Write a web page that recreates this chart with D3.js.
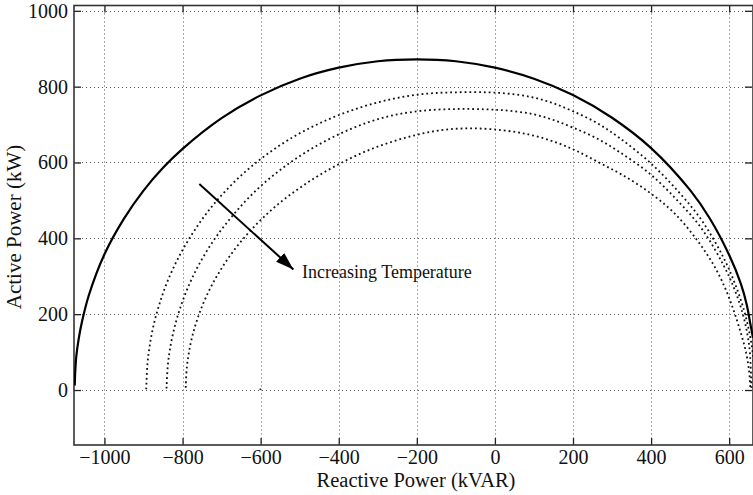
<!DOCTYPE html>
<html><head><meta charset="utf-8">
<script src="https://cdn.jsdelivr.net/npm/d3@7"></script>
<style>body{margin:0;background:#fff}svg{display:block}</style>
</head><body>
<svg id="chart" width="753" height="495"></svg>
<script>
// ---- data ----
const xDomain = [-1078, 661];
const yDomain = [-145, 1014];
const xTicks = [-1000, -800, -600, -400, -200, 0, 200, 400, 600];
const yTicks = [0, 200, 400, 600, 800, 1000];
const xTitle = "Reactive Power (kVAR)";
const yTitle = "Active Power (kW)";
const annotationText = "Increasing Temperature";

// solid capability limit curve [Q kVAR, P kW]
const limitCurve = [[-1076,12],[-1075,45],[-1072,90],[-1066,135],[-1058,178],[-1040,250],[-1000,358],[-950,452],
  [-900,526],[-850,586],[-800,636],[-700,717],[-600,777],[-500,821],[-400,850],[-300,867],[-200,872],
  [-100,867],[0,850],[100,821],[200,778],[300,718],[400,638],[500,527],[550,453],[600,356],[630,280],
  [645,225],[655,170],[661,138]];

// dotted curves (temperature increasing from A to C)
const curveA = [[-893,2],[-890,68],[-885,111],[-875,167],[-860,224],[-840,283],[-810,350],[-770,420],
  [-720,490],[-660,556],[-600,609],[-530,659],[-450,703],[-360,740],[-270,766],[-180,781],[-100,785],
  [-20,785],[40,781],[100,771],[150,756],[200,735],[260,705],[320,664],[397,600],[470,523],[530,447],
  [585,350],[615,280],[638,210],[652,150],[660,100],[667,0]];
const curveB = [[-841,4],[-838,62],[-833,103],[-823,155],[-808,210],[-788,266],[-760,327],[-720,395],
  [-670,462],[-610,528],[-540,588],[-460,642],[-370,688],[-280,720],[-190,736],[-100,741],[-20,740],
  [40,736],[100,727],[150,712],[200,692],[260,664],[320,627],[397,570],[470,497],[530,425],[585,330],
  [615,262],[635,200],[647,145],[653,100],[657,2]];
const curveC = [[-792,6],[-789,60],[-784,97],[-775,142],[-760,193],[-740,245],[-710,304],[-670,366],
  [-620,427],[-560,486],[-490,540],[-410,590],[-320,634],[-230,665],[-140,685],[-60,690],[20,685],
  [90,673],[154,654],[210,630],[270,598],[330,565],[397,520],[460,466],[518,395],[560,330],[590,268],
  [612,208],[630,150],[643,100],[651,50],[654,8]];
const strayPoint = [[-601, 2]];

// annotation arrow [Q, P]
const arrowStart = [-757, 543];
const arrowEnd = [-516, 318];
const annotationPos = [-494, 296];

// ---- drawing ----
const plot = {left: 74, right: 753, top: 5.5, bottom: 445};
const svg = d3.select("#chart");
const font = "'Liberation Serif','Times New Roman',serif";

const x = d3.scaleLinear().domain(xDomain).range([plot.left, plot.right]);
const y = d3.scaleLinear().domain(yDomain).range([plot.bottom, plot.top]);
const fmt = d3.format("d");

svg.append("defs").append("clipPath").attr("id", "clip")
  .append("rect").attr("x", plot.left).attr("y", plot.top)
  .attr("width", plot.right - plot.left).attr("height", plot.bottom - plot.top);

// grid
const grid = svg.append("g").attr("stroke", "#555").attr("stroke-width", 1).attr("stroke-dasharray", "1,3");
grid.selectAll("line.v").data(xTicks).join("line").attr("class", "v")
  .attr("x1", d => Math.round(x(d)) + 0.5).attr("x2", d => Math.round(x(d)) + 0.5)
  .attr("y1", plot.top).attr("y2", plot.bottom);
grid.selectAll("line.h").data(yTicks).join("line").attr("class", "h")
  .attr("y1", d => Math.round(y(d)) + 0.5).attr("y2", d => Math.round(y(d)) + 0.5)
  .attr("x1", plot.left).attr("x2", plot.right);

// axes
const tickLen = 7;
const axB = svg.append("g").attr("transform", `translate(0,${plot.bottom})`)
  .call(d3.axisBottom(x).tickValues(xTicks).tickFormat(fmt).tickSizeInner(-tickLen).tickSizeOuter(0).tickPadding(5));
const axT = svg.append("g").attr("transform", `translate(0,${plot.top})`)
  .call(d3.axisTop(x).tickValues(xTicks).tickSizeInner(-tickLen).tickSizeOuter(0).tickFormat(""));
const axL = svg.append("g").attr("transform", `translate(${plot.left},0)`)
  .call(d3.axisLeft(y).tickValues(yTicks).tickFormat(fmt).tickSizeInner(-tickLen).tickSizeOuter(0).tickPadding(6));
const axR = svg.append("g").attr("transform", `translate(${plot.right - 1},0)`)
  .call(d3.axisRight(y).tickValues(yTicks).tickSizeInner(-tickLen).tickSizeOuter(0).tickFormat(""));
[axB, axT, axL, axR].forEach(a => {
  a.select(".domain").remove();
  a.selectAll(".tick line").attr("stroke", "#222").attr("stroke-width", 1.3);
  a.selectAll("text").attr("font-family", font).attr("font-size", 20).attr("fill", "#111");
});

// frame
svg.append("rect").attr("x", plot.left).attr("y", plot.top)
  .attr("width", plot.right - plot.left).attr("height", plot.bottom - plot.top)
  .attr("fill", "none").attr("stroke", "#333").attr("stroke-width", 1.6);

// curves
const line = d3.line().x(d => x(d[0])).y(d => y(d[1])).curve(d3.curveCatmullRom.alpha(0.5));
const curves = svg.append("g").attr("clip-path", "url(#clip)");
curves.append("path").datum(limitCurve).attr("d", line)
  .attr("fill", "none").attr("stroke", "#000").attr("stroke-width", 2.2);
[curveA, curveB, curveC].forEach(c => {
  curves.append("path").datum(c).attr("d", line)
    .attr("fill", "none").attr("stroke", "#111").attr("stroke-width", 1.8)
    .attr("stroke-dasharray", "1.8,3");
});
curves.selectAll("rect.stray").data(strayPoint).join("rect").attr("class", "stray")
  .attr("x", d => x(d[0]) - 0.8).attr("y", d => y(d[1]) - 0.8).attr("width", 1.6).attr("height", 1.6)
  .attr("fill", "#333");

// arrow annotation
svg.select("defs").append("marker").attr("id", "head")
  .attr("markerUnits", "userSpaceOnUse").attr("viewBox", "0 0 18 12")
  .attr("refX", 18).attr("refY", 6).attr("markerWidth", 18).attr("markerHeight", 12)
  .attr("orient", "auto")
  .append("path").attr("d", "M0,0 L18,6 L0,12 Z").attr("fill", "#000");
svg.append("line")
  .attr("x1", x(arrowStart[0])).attr("y1", y(arrowStart[1]))
  .attr("x2", x(arrowEnd[0])).attr("y2", y(arrowEnd[1]))
  .attr("stroke", "#000").attr("stroke-width", 2).attr("marker-end", "url(#head)");
svg.append("text").attr("x", x(annotationPos[0])).attr("y", y(annotationPos[1]))
  .attr("font-family", font).attr("font-size", 18).attr("fill", "#111").text(annotationText);

// titles
svg.append("text").attr("x", 416).attr("y", 487)
  .attr("text-anchor", "middle").attr("font-family", font).attr("font-size", 20.5).attr("fill", "#111")
  .text(xTitle);
svg.append("text").attr("transform", `translate(21,227) rotate(-90)`)
  .attr("text-anchor", "middle").attr("font-family", font).attr("font-size", 21).attr("fill", "#111")
  .text(yTitle);
</script>
</body></html>
